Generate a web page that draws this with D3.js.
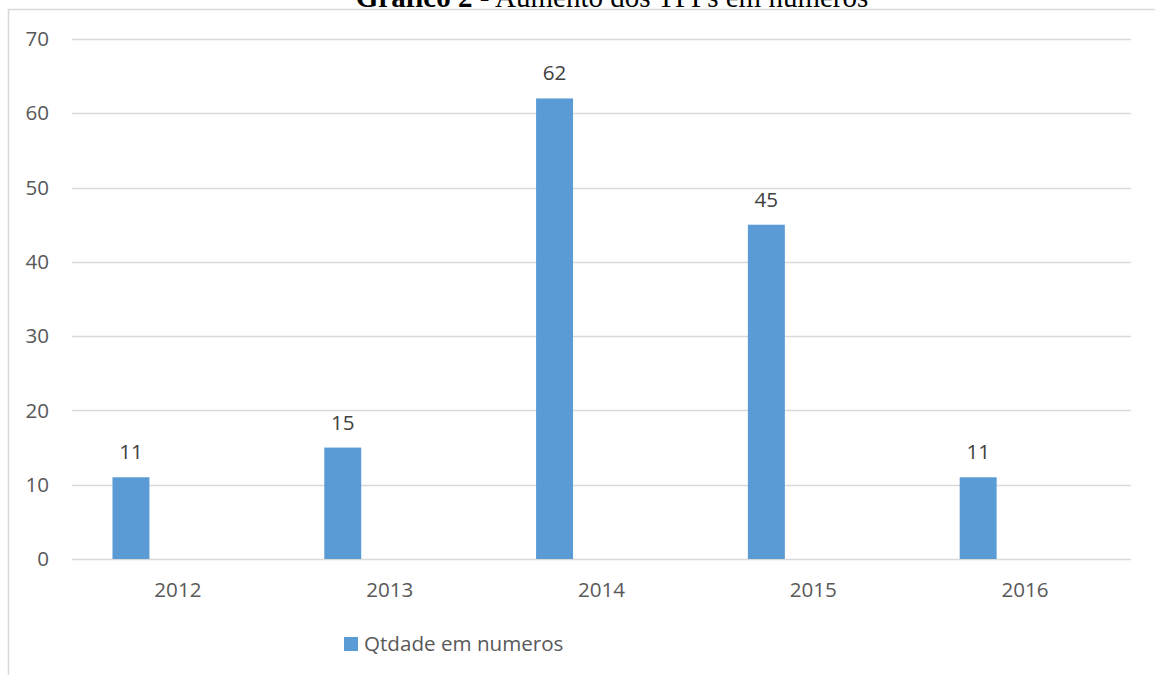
<!DOCTYPE html>
<html>
<head>
<meta charset="utf-8">
<script src="https://cdn.jsdelivr.net/npm/d3@7"></script>
<style>
  body { margin: 0; background: #fff; }
  svg { display: block; }
</style>
</head>
<body>
<div id="chart"></div>
<script>
const years = ["2012", "2013", "2014", "2015", "2016"];
const qtdade = [11, 15, 62, 45, 11];
const yTicks = [0, 10, 20, 30, 40, 50, 60, 70];
const seriesName = "Qtdade em numeros";
// Excel cluster had three series slots, only the first one filled
const seriesSlots = ["Qtdade em numeros", "s2", "s3"];

const W = 1155, H = 675;
const plot = {left: 72, right: 1131, top: 39, bottom: 559};

const svg = d3.select("#chart").append("svg")
    .attr("width", W)
    .attr("height", H);

// outer chart border (only top and left are inside the picture)
svg.append("rect")
    .attr("x", 8.5).attr("y", 9.5)
    .attr("width", W + 20).attr("height", H + 20)
    .attr("fill", "none")
    .attr("stroke", "#d9d9d9")
    .attr("stroke-width", 1.5);

// title, mostly cut off by the top of the image
const title = svg.append("text")
    .attr("x", 612)
    .attr("y", 7)
    .attr("text-anchor", "middle")
    .attr("font-family", "'Liberation Serif', 'Times New Roman', serif")
    .attr("font-size", 29)
    .attr("fill", "#000");
title.append("tspan").attr("font-weight", "bold").text("Gráfico 2");
title.append("tspan").text(" - Aumento dos TPPs em números");

const x0 = d3.scaleBand()
    .domain(years)
    .range([plot.left, plot.right]);

// gap width 219%, overlap -27%
const w = x0.bandwidth() / (3 + 2 * 0.27 + 2.19);
const x1 = d3.scaleBand()
    .domain(seriesSlots)
    .range([1.095 * w, x0.bandwidth() - 1.095 * w])
    .paddingInner(0.27 / 1.27);

const y = d3.scaleLinear()
    .domain([0, 70])
    .range([plot.bottom, plot.top]);

// gridlines
svg.append("g")
    .selectAll("line")
    .data(yTicks)
    .join("line")
        .attr("x1", plot.left)
        .attr("x2", plot.right)
        .attr("y1", d => Math.round(y(d)) + 0.5)
        .attr("y2", d => Math.round(y(d)) + 0.5)
        .attr("stroke", "#d9d9d9")
        .attr("stroke-width", 1.5);

const font = "'Open Sans', 'Noto Sans', sans-serif";
const fs = 20.6;

// y tick labels
svg.append("g")
    .selectAll("text")
    .data(yTicks)
    .join("text")
        .attr("x", 49)
        .attr("y", d => y(d))
        .attr("dy", "0.35em")
        .attr("text-anchor", "end")
        .attr("font-family", font)
        .attr("font-size", fs)
        .attr("fill", "#595959")
        .text(d => d);

// bars
svg.append("g")
    .selectAll("rect")
    .data(years)
    .join("rect")
        .attr("x", (d, i) => x0(d) + x1(seriesName))
        .attr("y", (d, i) => y(qtdade[i]))
        .attr("width", x1.bandwidth())
        .attr("height", (d, i) => y(0) - y(qtdade[i]))
        .attr("fill", "#5b9bd5");

// data labels
svg.append("g")
    .selectAll("text")
    .data(years)
    .join("text")
        .attr("x", (d, i) => x0(d) + x1(seriesName) + x1.bandwidth() / 2)
        .attr("y", (d, i) => y(qtdade[i]) - 18)
        .attr("text-anchor", "middle")
        .attr("font-family", font)
        .attr("font-size", fs)
        .attr("fill", "#404040")
        .text((d, i) => qtdade[i]);

// category labels
svg.append("g")
    .selectAll("text")
    .data(years)
    .join("text")
        .attr("x", d => x0(d) + x0.bandwidth() / 2)
        .attr("y", 590)
        .attr("dy", "0.35em")
        .attr("text-anchor", "middle")
        .attr("font-family", font)
        .attr("font-size", fs)
        .attr("fill", "#595959")
        .text(d => d);

// legend
const legend = svg.append("g").attr("transform", "translate(344,637)");
legend.append("rect")
    .attr("width", 14).attr("height", 14)
    .attr("fill", "#5b9bd5");
legend.append("text")
    .attr("x", 20)
    .attr("y", 7)
    .attr("dy", "0.35em")
    .attr("font-family", font)
    .attr("font-size", fs)
    .attr("fill", "#595959")
    .text(seriesName);
</script>
</body>
</html>
